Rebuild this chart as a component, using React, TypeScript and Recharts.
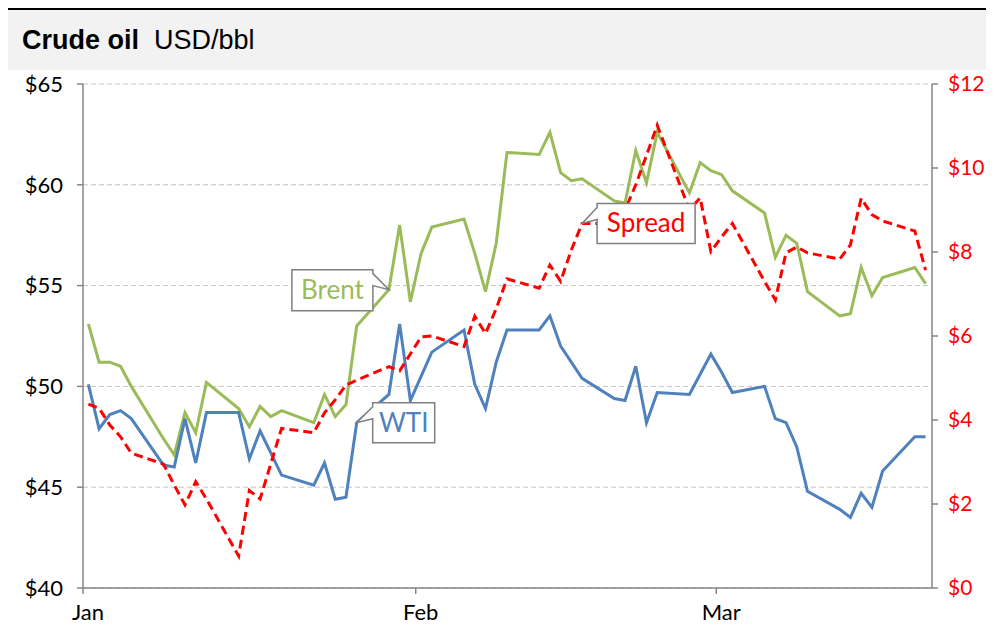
import { LineChart, Line, XAxis, YAxis, CartesianGrid, ReferenceDot } from "recharts";

// trading days, counted as day of the year (Jan 1 = 1)
const days = [
  1, 2, 3, 4, 5, 8, 9, 10, 11, 12, 15, 16, 17, 18, 19, 22, 23, 24, 25, 26, 29, 30, 31, 32, 33, 36, 37, 38, 39,
  40, 43, 44, 45, 46, 47, 50, 51, 52, 53, 54, 57, 58, 59, 60, 61, 64, 65, 66, 67, 68, 71, 72, 73, 74, 75, 78, 79,
];

const brent = [
  53.1, 51.2, 51.2, 51.0, 50.0, 47.4, 46.6, 48.7, 47.7, 50.2, 48.9, 48.0, 49.0, 48.5, 48.8, 48.2, 49.6, 48.5,
  49.1, 53.0, 54.8, 58.0, 54.2, 56.6, 57.9, 58.3, 56.6, 54.7, 57.1, 61.6, 61.5, 62.6, 60.6, 60.2, 60.3, 59.2,
  59.1, 61.7, 60.1, 62.6, 59.6, 61.1, 60.7, 60.5, 59.7, 58.6, 56.4, 57.5, 57.1, 54.7, 53.5, 53.6, 55.9, 54.5,
  55.4, 55.9, 55.1,
];

const wti = [
  50.1, 47.9, 48.6, 48.8, 48.4, 46.1, 46.0, 48.4, 46.2, 48.7, 48.7, 46.4, 47.8, null, 45.6, 45.1, 46.2, 44.4,
  44.5, 48.2, 49.6, 53.1, 49.3, 50.5, 51.7, 52.8, 50.1, 48.9, 51.2, 52.8, 52.8, 53.5, 52.0, null, 50.4, 49.4,
  49.3, 51.0, 48.2, 49.7, 49.6, 50.6, 51.6, 50.7, 49.7, 50.0, 48.4, 48.2, 47.0, 44.8, 43.9, 43.5, 44.7, 44.0,
  45.8, 47.5, 47.5,
];

const spread = [
  4.38, 4.28, 3.88, 3.6, 3.21, 2.95, 2.45, 1.98, 2.53, 2.12, 0.76, 2.32, 2.12, 2.96, 3.8, 3.7, 4.17, 4.48, 4.83,
  4.95, 5.27, 5.17, 5.57, 5.98, 6.0, 5.75, 6.47, 6.06, 6.65, 7.36, 7.14, 7.69, 7.3, 8.05, 8.68, 8.68, 9.0, 9.6,
  10.3, 11.02, 9.0, 9.29, 8.01, 8.36, 8.68, 7.3, 6.86, 7.98, 8.12, 7.98, 7.83, 8.17, 9.28, 8.89, 8.74, 8.5, 7.57,
];

const monthTicks = [0.5, 31.5, 59.5];
const monthLabels = ["Jan", "Feb", "Mar"];
const priceTicks = [40, 45, 50, 55, 60, 65];
const spreadTicks = [0, 2, 4, 6, 8, 10, 12];

const data = days.map((day, i) => ({ day, brent: brent[i], wti: wti[i], spread: spread[i] }));

const GREEN = "#9bbb59";
const BLUE = "#4f81bd";
const RED = "#ff0000";
const AXIS = "#868686";
const FONT = "Lato, 'Noto Sans', sans-serif";

const at = (arr: (number | null)[], day: number) => arr[days.indexOf(day)] as number;

// callout box drawn relative to the point it refers to
const Callout = ({ cx, cy, text, color, box, side }: any) => {
  const [l, r, t, b] = box;
  const w1 = t + 4;
  const w2 = t + 16;
  let d;
  if (side === "right") {
    d = `M${cx + l},${cy + t} H${cx + r} V${cy + w1} L${cx},${cy} L${cx + r},${cy + w2} V${cy + b} H${cx + l} Z`;
  } else {
    d = `M${cx + l},${cy + t} H${cx + r} V${cy + b} H${cx + l} V${cy + w2} L${cx},${cy} L${cx + l},${cy + w1} Z`;
  }
  return (
    <g>
      <path d={d} fill="#fff" stroke="#7f7f7f" strokeWidth={1.5} />
      <text
        x={cx + (l + r) / 2}
        y={cy + (t + b) / 2 + 9}
        textAnchor="middle"
        fill={color}
        fontSize={26}
        fontFamily={FONT}
      >
        {text}
      </text>
    </g>
  );
};

const MonthTick = ({ x, y, payload }: any) => (
  <text x={x + 5} y={y + 24} textAnchor="middle" fill="#000" fontSize={22} fontFamily={FONT}>
    {monthLabels[monthTicks.indexOf(payload.value)]}
  </text>
);

export default function App() {
  return (
    <div style={{ width: 986, fontFamily: FONT }}>
      <div
        style={{
          height: 60,
          background: "#f2f2f2",
          borderTop: "2px solid #000",
          display: "flex",
          alignItems: "center",
          paddingLeft: 14,
          fontFamily: "'Liberation Sans', Arial, sans-serif",
          fontSize: 27,
          color: "#000",
        }}
      >
        <span style={{ fontWeight: "bold" }}>Crude oil</span>
        <span style={{ marginLeft: 15 }}>USD/bbl</span>
      </div>
      <LineChart width={986} height={559} data={data} margin={{ top: 14, right: 0, bottom: 0, left: 0 }}>
        <CartesianGrid
          yAxisId="left"
          vertical={false}
          stroke="#c4c4c4"
          strokeDasharray="5 3"
          strokeWidth={1}
        />
        <XAxis
          dataKey="day"
          type="number"
          domain={[0.5, 79.6]}
          ticks={monthTicks}
          tick={<MonthTick />}
          stroke={AXIS}
          strokeWidth={1.5}
          tickSize={6}
          height={41}
          interval={0}
        />
        <YAxis
          yAxisId="left"
          domain={[40, 65]}
          ticks={priceTicks}
          tickFormatter={(v) => `$${v}`}
          tick={{ fill: "#000", fontSize: 22, fontFamily: FONT }}
          stroke={AXIS}
          strokeWidth={1.5}
          tickSize={6}
          tickMargin={14}
          width={75}
          interval={0}
        />
        <YAxis
          yAxisId="right"
          orientation="right"
          domain={[0, 12]}
          ticks={spreadTicks}
          tickFormatter={(v) => `$${v}`}
          tick={{ fill: RED, fontSize: 21, fontFamily: FONT, textAnchor: "start" }}
          stroke={AXIS}
          strokeWidth={1.5}
          tickSize={6}
          tickMargin={10}
          width={62}
          interval={0}
        />
        <Line
          yAxisId="left"
          dataKey="brent"
          stroke={GREEN}
          strokeWidth={3}
          dot={false}
          connectNulls
          isAnimationActive={false}
        />
        <Line
          yAxisId="left"
          dataKey="wti"
          stroke={BLUE}
          strokeWidth={3}
          dot={false}
          connectNulls
          isAnimationActive={false}
        />
        <Line
          yAxisId="right"
          dataKey="spread"
          stroke={RED}
          strokeWidth={3}
          strokeDasharray="9 5"
          dot={false}
          connectNulls
          isAnimationActive={false}
        />
        <ReferenceDot
          yAxisId="left"
          x={29}
          y={at(brent, 29)}
          ifOverflow="visible"
          shape={(p: any) => (
            <Callout cx={p.cx} cy={p.cy} text="Brent" color={GREEN} box={[-97, -16, -20, 21]} side="right" />
          )}
        />
        <ReferenceDot
          yAxisId="left"
          x={26}
          y={at(wti, 26)}
          ifOverflow="visible"
          shape={(p: any) => (
            <Callout cx={p.cx} cy={p.cy} text="WTI" color={BLUE} box={[16, 78, -20, 20]} side="left" />
          )}
        />
        <ReferenceDot
          yAxisId="right"
          x={47}
          y={at(spread, 47)}
          ifOverflow="visible"
          shape={(p: any) => (
            <Callout cx={p.cx} cy={p.cy} text="Spread" color={RED} box={[15, 113, -20, 20]} side="left" />
          )}
        />
      </LineChart>
    </div>
  );
}
